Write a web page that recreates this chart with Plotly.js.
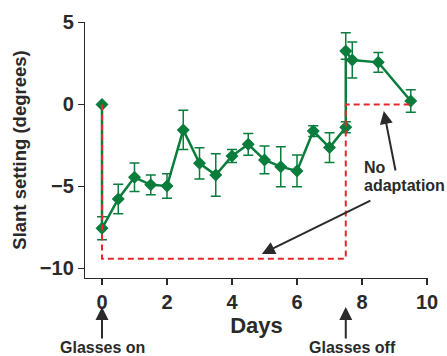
<!DOCTYPE html>
<html>
<head>
<meta charset="utf-8">
<script src="https://cdn.plot.ly/plotly-3.0.1.min.js"></script>
<style>html,body{margin:0;padding:0;background:#fff;}#chart{width:447px;height:356px;}</style>
</head>
<body>
<div id="chart"></div>
<script>
// Measured adaptation data
var days = [0, 0, 0.5, 1, 1.5, 2, 2.5, 3, 3.5, 4, 4.5, 5, 5.5, 6, 6.5, 7, 7.5, 7.5, 7.7, 8.5, 9.5];
var slant = [0, -7.55, -5.76, -4.44, -4.9, -4.97, -1.55, -3.59, -4.3, -3.14, -2.43, -3.38, -3.79, -4.05, -1.62, -2.63, -1.39, 3.26, 2.71, 2.57, 0.21];
var errPlus = [0, 0.7, 0.9, 0.87, 0.6, 0.75, 1.2, 0.95, 1.3, 0.4, 0.66, 0.85, 1.22, 0.97, 0.33, 0.9, 0.33, 1.12, 1.1, 0.6, 0.69];
var errMinus = [0, 0.7, 0.9, 0.87, 0.6, 0.75, 1.2, 0.95, 1.3, 0.4, 0.66, 0.85, 1.22, 0.97, 0.33, 0.9, 0.33, 0.5, 1.1, 0.6, 0.69];

// "No adaptation" reference path
var refDays = [0, 0, 7.5, 7.5, 9.5];
var refSlant = [0, -9.4, -9.4, 0, 0];

// Axis ticks
var xTicks = [0, 2, 4, 6, 8, 10];
var yTicks = [-10, -5, 0, 5];

var green = '#0a7d3c';
var red = '#e8262b';
var ink = '#2a2a2a';
var fam = 'Liberation Sans, Arial, Helvetica, sans-serif';

var traces = [
  {
    x: days, y: slant, type: 'scatter', mode: 'lines+markers',
    line: {color: green, width: 2.5},
    marker: {symbol: 'diamond', size: 10, color: green},
    error_y: {type: 'data', symmetric: false, array: errPlus, arrayminus: errMinus,
              color: green, thickness: 1.5, width: 5},
    hoverinfo: 'x+y', showlegend: false
  },
  {
    x: refDays, y: refSlant, type: 'scatter', mode: 'lines',
    line: {color: red, width: 2, dash: '6px,4px'},
    hoverinfo: 'skip', showlegend: false
  }
];

var annFont = {family: fam, size: 16, color: ink, weight: 'bold'};
var layout = {
  width: 447, height: 356,
  margin: {l: 85, r: 19, t: 22, b: 78},
  paper_bgcolor: '#fff', plot_bgcolor: '#fff',
  showlegend: false,
  font: {family: fam, color: ink},
  xaxis: {
    range: [-0.523, 10.03], tickvals: xTicks, ticktext: xTicks.map(String),
    showgrid: false, zeroline: false, showline: true, linecolor: ink, linewidth: 1.2,
    ticks: 'outside', ticklen: 6, tickwidth: 1.2, tickcolor: ink,
    tickfont: {family: fam, size: 20, color: ink, weight: 'bold'},
    title: {text: 'Days', font: {family: fam, size: 22, color: ink, weight: 'bold'}, standoff: 3}
  },
  yaxis: {
    range: [-10.58, 5.03], tickvals: yTicks,
    showgrid: false, zeroline: false, showline: true, linecolor: ink, linewidth: 1.2,
    ticks: 'outside', ticklen: 6, tickwidth: 1.2, tickcolor: ink,
    tickfont: {family: fam, size: 20, color: ink, weight: 'bold'},
    title: {text: 'Slant setting (degrees)', font: {family: fam, size: 18.5, color: ink, weight: 'bold'}, standoff: 8}
  },
  annotations: [
    {x: 4.92, y: -9.11, xref: 'x', yref: 'y', text: '', showarrow: true,
     ax: 110, ay: -54, arrowhead: 2, arrowsize: 1.3, arrowwidth: 2, arrowcolor: ink},
    {x: 8.67, y: -0.4, xref: 'x', yref: 'y', text: '', showarrow: true,
     ax: 12, ay: 61, arrowhead: 2, arrowsize: 1.3, arrowwidth: 2, arrowcolor: ink},
    {x: 7.99, y: -3.87, xref: 'x', yref: 'y', text: 'No', showarrow: false,
     xanchor: 'left', yanchor: 'middle', font: annFont},
    {x: 7.99, y: -4.95, xref: 'x', yref: 'y', text: 'adaptation', showarrow: false,
     xanchor: 'left', yanchor: 'middle', font: annFont},
    {x: 0, y: -0.113, xref: 'x', yref: 'paper', text: '', showarrow: true,
     ax: 0, ay: 33, arrowhead: 2, arrowsize: 1.3, arrowwidth: 2, arrowcolor: ink},
    {x: 7.5, y: -0.113, xref: 'x', yref: 'paper', text: '', showarrow: true,
     ax: 0, ay: 33, arrowhead: 2, arrowsize: 1.3, arrowwidth: 2, arrowcolor: ink},
    {x: 0, y: -0.27, xref: 'x', yref: 'paper', text: 'Glasses on', showarrow: false,
     xanchor: 'center', yanchor: 'middle', font: annFont},
    {x: 7.7, y: -0.27, xref: 'x', yref: 'paper', text: 'Glasses off', showarrow: false,
     xanchor: 'center', yanchor: 'middle', font: annFont}
  ]
};

Plotly.newPlot('chart', traces, layout, {displayModeBar: false, staticPlot: true});
</script>
</body>
</html>
